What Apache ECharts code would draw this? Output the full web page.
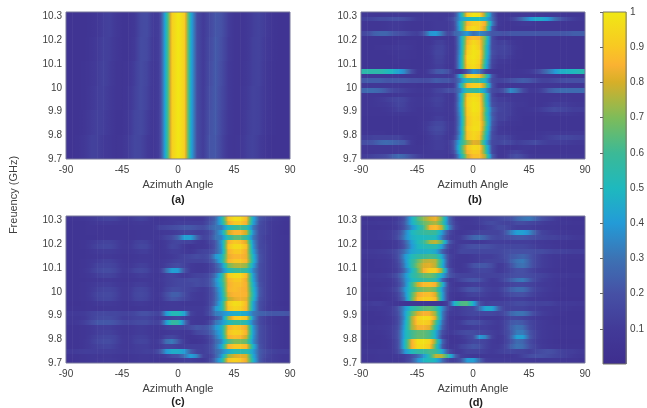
<!DOCTYPE html>
<html><head><meta charset="utf-8">
<style>html,body{margin:0;padding:0;background:#fff}#c{width:647px;height:408px}</style>
<script src="https://cdn.jsdelivr.net/npm/echarts@6/dist/echarts.min.js"></script>
</head><body><div id="c"></div>
<script>
const angles=[-90,-85,-80,-75,-70,-65,-60,-55,-50,-45,-40,-35,-30,-25,-20,-15,-10,-5,0,5,10,15,20,25,30,35,40,45,50,55,60,65,70,75,80,85,90];
const xTicks=[-90,-45,0,45,90];
const yTicks=[9.7,9.8,9.9,10,10.1,10.2,10.3];
const cbTicks=[0.1,0.2,0.3,0.4,0.5,0.6,0.7,0.8,0.9,1];
const colorStops=[[0,62,46,142],[0.1,66,58,152],[0.2,70,80,165],[0.3,60,115,180],[0.4,35,155,215],[0.5,30,185,190],[0.6,60,185,150],[0.7,125,188,90],[0.8,215,175,40],[0.85,250,178,50],[0.9,248,200,35],[1,240,232,20]];
// values in percent; rows run top (high frequency) to bottom
const panelA=[
[5,5,5,5,6,8,12,13,9,6,6,9,17,18,10,12,48,92,100,92,46,18,10,16,22,20,12,7,6,8,12,14,11,7,5,5,5],
[5,5,5,5,7,10,13,12,8,6,6,10,18,17,9,12,48,92,100,92,46,18,10,17,23,19,11,7,6,8,13,14,10,7,5,5,5],
[5,5,5,6,8,11,14,11,7,6,7,12,18,15,8,12,48,92,100,92,46,18,10,18,23,18,10,7,6,9,13,14,9,6,5,5,5],
[5,5,5,6,9,12,13,10,7,6,8,13,18,14,8,12,48,92,100,92,46,18,10,19,23,17,10,7,7,10,14,13,9,6,5,5,5],
[5,5,5,7,11,13,12,9,6,6,9,15,17,12,7,12,48,92,100,92,46,18,11,20,23,16,9,7,7,11,14,13,8,6,5,5,5],
[5,5,6,9,13,13,10,8,6,7,11,16,15,10,7,12,48,92,100,92,46,18,11,21,22,15,8,7,8,12,14,11,7,5,5,5,5]];
const panelB=[
[8,8,7,7,8,8,9,8,8,8,8,9,10,9,9,16,46,90,100,97,66,28,8,7,8,8,9,10,10,9,8,8,8,7,7,7,7],
[12,14,16,18,18,20,20,18,14,10,9,10,10,9,12,22,42,48,50,50,46,30,10,8,12,20,30,38,45,45,40,30,22,16,12,9,8],
[7,7,7,7,8,10,10,8,7,7,7,8,10,10,10,18,52,85,92,92,82,36,10,7,7,8,9,9,8,7,7,7,7,7,7,7,7],
[7,7,7,7,8,10,10,8,7,7,7,8,10,10,10,17,50,90,97,92,76,24,8,7,7,7,7,7,7,7,7,7,7,7,7,7,7],
[15,18,24,26,26,22,20,18,14,12,20,38,40,30,14,25,32,40,28,35,30,22,22,20,22,22,22,22,22,22,22,22,22,22,24,24,24],
[6,6,6,6,6,6,6,6,6,6,6,7,8,8,7,10,42,82,88,85,66,18,7,6,6,6,6,6,6,6,6,6,6,6,6,6,6],
[6,6,6,6,6,6,8,8,7,6,6,7,12,13,8,10,42,85,96,90,62,18,12,14,10,7,6,6,6,6,6,6,6,6,6,6,6],
[6,6,6,7,8,8,10,10,8,6,6,9,14,15,9,9,42,88,98,92,58,18,14,16,12,8,6,6,6,6,6,6,6,6,6,6,6],
[6,6,6,6,6,7,8,8,7,6,6,9,15,15,9,10,44,92,99,96,58,20,14,15,12,7,6,6,6,6,6,6,6,6,6,6,6],
[6,6,6,6,6,6,8,8,7,6,6,8,14,14,8,10,46,95,99,95,56,18,12,14,10,7,6,6,6,6,6,6,6,6,6,6,6],
[6,6,6,6,6,6,7,7,6,6,6,8,13,13,8,10,46,94,98,93,52,16,10,10,8,6,6,6,6,6,6,6,6,6,6,6,6],
[6,6,6,6,6,6,6,7,6,6,6,8,12,12,7,10,46,92,97,90,48,15,8,8,7,6,6,6,6,6,6,6,6,6,6,6,6],
[55,55,55,55,52,48,42,35,20,8,6,14,22,24,20,8,8,22,38,32,14,8,6,8,8,7,8,10,14,22,30,38,46,48,50,52,55],
[8,8,8,8,8,8,8,7,7,6,7,8,10,10,9,14,50,88,94,88,64,22,8,7,7,7,7,7,7,7,7,7,7,7,7,7,7],
[22,24,24,24,22,22,22,22,20,20,18,20,24,22,22,18,34,55,62,58,46,18,14,16,20,22,24,22,18,14,14,16,18,20,20,20,20],
[8,8,8,8,8,8,8,7,7,6,6,7,8,8,8,12,48,86,92,92,70,22,7,7,7,7,7,7,7,7,7,7,7,7,7,7,7],
[26,28,28,26,22,16,14,12,10,8,8,10,14,16,20,20,34,58,60,55,38,18,15,22,36,30,18,10,10,14,22,26,28,28,28,28,28],
[7,7,7,7,7,7,8,8,7,7,7,9,12,12,8,11,46,88,96,92,58,16,7,8,8,8,7,7,7,7,7,7,7,7,7,7,7],
[7,7,8,10,12,14,16,14,10,8,8,11,14,13,8,11,44,92,98,95,56,18,12,12,10,8,8,7,7,7,7,8,8,8,7,7,7],
[7,7,8,9,10,12,15,13,9,8,8,10,13,12,8,12,46,92,99,96,58,20,14,14,12,9,9,7,7,7,9,12,12,11,9,8,8],
[7,7,7,7,8,10,13,12,9,7,7,9,11,11,8,12,44,90,99,96,62,26,16,14,12,8,7,8,9,12,15,18,16,14,12,12,11],
[7,7,7,7,7,8,8,8,7,7,7,8,10,10,8,11,42,90,97,95,60,24,14,14,12,8,7,7,7,7,8,9,9,9,8,7,7],
[6,6,6,6,6,6,6,6,6,6,7,8,12,12,8,10,40,88,96,94,62,26,14,14,10,8,6,6,6,6,6,6,6,6,6,6,6],
[6,6,6,6,6,6,6,6,6,6,8,12,16,16,10,11,40,88,96,96,66,24,12,10,8,7,6,6,6,6,6,6,6,6,6,6,6],
[6,6,6,6,6,6,6,6,6,6,8,14,18,17,10,11,42,90,97,96,62,22,10,8,7,6,6,6,6,6,6,6,6,6,6,6,6],
[7,7,7,7,6,6,6,6,6,6,7,12,16,15,9,11,40,88,95,92,58,19,10,10,8,7,7,7,7,8,9,9,9,9,9,9,9],
[12,12,14,14,14,14,14,10,8,6,6,10,13,12,8,14,44,88,95,90,54,19,14,15,12,8,7,7,8,10,12,14,16,16,15,14,13],
[18,20,22,26,28,26,24,22,10,6,7,10,12,12,10,24,52,72,82,80,44,17,15,18,16,12,14,16,18,14,12,12,12,11,10,9,9],
[8,8,8,8,8,8,8,8,8,7,8,10,12,12,9,24,58,88,96,94,60,18,8,7,7,7,8,8,7,7,7,7,7,7,7,7,7],
[7,7,7,8,8,8,9,9,8,7,8,9,10,10,9,20,54,85,92,90,62,18,8,8,12,14,10,7,7,7,7,7,7,7,7,7,7],
[10,12,14,16,18,24,28,25,20,14,10,10,10,10,8,14,46,78,88,88,74,26,8,8,16,20,15,10,8,8,8,8,8,8,8,8,8]];
const panelC=[
[7,7,7,8,10,12,14,15,14,10,9,12,14,12,8,7,8,10,10,10,10,9,10,18,26,50,88,97,96,86,46,22,16,12,10,8,7],
[6,6,6,6,8,9,10,10,9,8,8,9,10,9,8,8,9,10,12,12,12,12,12,20,28,48,82,90,90,84,44,20,14,10,9,7,6],
[6,6,6,6,7,7,7,7,7,7,7,8,8,8,8,14,16,18,20,22,22,20,18,24,30,32,50,58,62,56,32,18,14,10,8,7,6],
[6,6,6,6,7,7,7,7,7,7,7,7,8,8,8,8,9,10,12,14,14,12,12,16,28,42,78,86,86,78,38,18,14,10,8,6,6],
[6,6,6,6,6,6,7,7,7,7,6,7,8,8,8,10,14,18,26,42,42,26,14,18,30,34,55,65,65,56,32,18,12,10,8,7,6],
[6,6,6,7,10,12,14,14,12,9,8,12,14,13,8,7,10,14,16,14,14,10,8,14,22,42,84,90,88,80,38,18,13,10,8,6,6],
[6,6,6,7,11,14,16,16,13,9,9,13,16,15,9,7,10,16,14,9,6,8,8,12,22,40,88,96,95,87,40,18,14,10,8,6,6],
[6,6,6,6,8,10,11,11,10,8,8,10,12,12,8,7,9,12,12,10,8,12,14,16,24,38,84,90,90,83,44,20,14,10,8,6,6],
[6,6,6,6,7,8,9,9,8,7,7,8,9,9,8,7,8,10,12,14,16,18,16,20,38,48,82,86,86,83,50,22,14,10,8,6,6],
[6,6,6,7,9,11,13,13,11,8,7,9,10,10,8,8,10,12,14,14,14,14,14,18,30,50,84,90,90,85,52,22,14,10,8,6,6],
[6,6,6,7,10,14,15,15,13,9,8,11,13,12,8,8,12,16,18,14,10,8,8,12,22,36,68,75,76,72,44,20,14,10,8,6,6],
[6,6,6,8,12,16,18,18,15,10,10,15,17,15,9,10,28,42,40,20,10,8,8,12,20,32,50,58,60,56,36,20,14,10,8,6,6],
[6,6,6,7,9,12,14,14,12,8,8,10,12,11,8,8,12,14,12,10,12,14,14,18,30,52,90,96,95,86,42,20,14,10,8,6,6],
[6,6,6,6,7,8,9,9,8,7,7,8,9,9,8,9,12,14,16,16,18,18,16,20,36,55,85,90,90,82,44,20,14,10,8,6,6],
[6,6,6,7,9,11,12,12,10,8,8,11,12,11,8,8,12,14,16,16,16,18,16,20,34,52,84,88,88,84,48,22,14,10,8,6,6],
[6,6,6,7,10,13,15,15,13,9,9,14,16,14,9,8,14,18,18,16,14,12,10,14,28,48,85,88,86,84,52,24,14,10,8,6,6],
[6,6,6,7,11,15,17,17,14,9,9,15,17,15,9,9,18,24,24,18,12,10,9,14,26,46,82,86,86,85,54,24,14,10,8,6,6],
[6,6,6,7,10,14,16,16,13,9,9,14,16,14,9,8,16,22,20,16,12,10,9,14,26,44,76,82,84,82,52,22,14,10,8,6,6],
[5,5,5,6,7,9,10,10,9,7,7,9,10,9,7,7,9,10,10,8,8,8,8,14,28,50,90,97,95,86,44,20,13,9,7,5,5],
[6,6,6,6,7,7,8,8,8,7,7,7,8,8,7,8,9,10,10,10,10,10,10,16,38,50,88,94,92,85,44,20,12,9,8,6,6],
[10,10,10,11,14,16,17,16,16,14,14,16,20,20,16,14,38,52,52,42,14,10,10,18,32,36,42,46,46,44,32,26,24,22,22,22,20],
[8,8,8,10,14,17,18,18,16,12,12,14,15,15,12,10,12,14,16,12,10,8,8,10,20,30,72,90,92,88,38,18,12,9,7,6,6],
[8,8,10,13,18,22,22,22,20,16,15,17,18,18,14,14,38,58,56,30,10,8,8,14,30,38,50,58,58,52,32,18,12,9,7,6,6],
[6,6,6,7,9,12,12,12,10,8,8,10,11,10,8,8,12,14,14,14,18,22,20,24,38,48,84,90,88,82,40,20,14,10,8,6,6],
[6,6,6,7,9,12,13,13,11,8,8,10,11,10,8,7,8,10,10,8,10,16,18,22,34,46,88,93,92,84,42,20,14,10,8,6,6],
[6,6,6,7,11,14,16,16,14,9,9,12,13,12,8,8,14,16,12,8,6,8,10,16,30,44,84,88,86,78,40,20,14,10,8,6,6],
[6,6,6,8,12,16,18,18,14,10,9,13,15,14,9,12,28,32,22,10,6,6,8,14,26,36,62,70,70,66,38,20,14,10,8,6,6],
[6,6,6,8,11,13,15,15,12,9,9,11,12,12,9,10,14,14,12,12,12,12,12,16,28,44,84,90,90,86,50,22,14,10,8,6,6],
[10,10,11,12,12,12,12,12,11,10,10,11,12,13,12,20,38,46,46,40,24,14,12,16,26,34,44,52,54,54,42,24,18,14,12,12,11],
[6,6,6,7,8,8,9,9,8,7,7,8,9,9,8,9,12,18,20,30,42,34,14,12,24,40,72,80,82,80,46,24,16,12,10,8,8],
[5,5,6,7,8,9,10,10,9,7,7,8,9,9,8,7,8,9,10,12,12,10,8,14,30,50,88,93,90,82,50,24,14,12,10,8,8]];
const panelD=[
[6,6,6,7,7,8,12,22,44,62,72,80,84,66,30,12,8,8,10,12,14,14,16,18,20,26,30,32,26,20,16,12,8,7,6,6,6],
[8,8,8,9,9,10,14,24,44,58,66,72,76,62,30,14,9,9,10,12,16,18,16,14,14,18,18,16,14,12,10,9,8,8,7,7,7],
[6,6,6,6,7,8,12,22,36,48,60,84,88,76,38,16,9,8,8,10,12,14,18,18,14,12,12,12,10,9,8,8,7,6,6,6,6],
[8,8,8,9,10,12,18,32,48,54,58,60,58,40,18,10,8,10,12,14,14,14,14,20,32,42,42,36,24,14,12,10,9,8,7,7,7],
[8,8,8,9,10,12,20,34,46,50,50,52,50,32,14,10,12,20,26,28,24,18,16,18,20,22,22,20,18,16,14,14,12,12,10,9,9],
[6,6,6,6,7,8,12,24,40,50,58,74,78,64,26,12,9,9,8,8,10,12,12,12,12,12,12,12,10,9,8,7,7,6,6,6,6],
[6,6,6,6,7,8,12,22,38,48,52,54,54,40,16,10,14,18,20,20,20,18,16,16,16,16,16,14,12,10,9,8,7,6,6,6,6],
[10,10,10,11,12,14,20,30,42,46,46,48,44,26,12,10,16,16,16,16,16,16,16,18,20,20,20,20,18,18,16,14,14,13,12,12,12],
[8,8,8,9,10,12,20,38,50,56,60,62,60,42,16,10,8,8,10,12,12,12,14,18,22,24,26,22,16,12,10,8,8,7,7,7,7],
[6,6,6,7,8,10,18,36,54,66,76,78,76,50,16,8,8,8,10,12,14,14,14,16,24,30,32,24,16,12,10,8,7,6,6,6,6],
[6,6,6,7,8,10,16,34,54,70,80,82,76,48,16,8,8,12,20,22,22,18,10,12,20,28,30,24,16,12,10,8,7,6,6,6,6],
[6,6,6,6,7,9,14,28,46,64,84,92,92,70,24,10,8,10,14,16,16,14,10,12,16,20,20,16,12,10,8,7,6,6,6,6,6],
[9,9,9,10,11,14,22,36,52,60,66,68,62,44,24,16,14,14,14,14,14,14,14,16,18,20,20,18,16,14,12,10,9,9,8,8,8],
[7,7,7,8,8,10,18,34,48,54,58,60,54,28,10,10,16,20,22,20,14,10,12,18,24,30,32,24,16,12,10,8,7,6,6,6,6],
[6,6,6,6,7,9,16,32,56,78,87,88,84,52,14,7,8,10,12,12,12,10,10,12,14,16,16,14,12,10,9,8,6,6,6,6,6],
[7,7,7,8,9,12,20,38,54,66,70,72,66,40,14,9,14,20,22,20,14,12,12,18,24,28,28,22,14,12,10,8,7,6,6,6,6],
[6,6,6,6,7,9,16,34,60,82,87,88,80,44,12,7,8,12,14,14,12,10,10,14,18,20,20,16,12,10,8,7,6,6,6,6,6],
[5,5,5,5,6,8,14,30,62,86,92,92,86,44,12,6,6,8,8,10,10,8,8,10,12,12,12,10,9,8,7,6,5,5,5,5,5],
[10,10,12,12,10,8,7,6,6,6,6,6,6,6,14,48,62,64,46,20,12,14,14,14,16,18,18,16,14,14,14,12,10,10,10,9,9],
[8,8,8,9,10,12,22,38,52,60,64,66,60,38,16,10,12,14,16,28,44,44,26,14,14,14,14,12,12,10,9,8,8,8,7,7,7],
[6,6,6,7,9,12,20,40,64,80,85,84,72,34,12,10,12,14,16,16,16,16,14,18,26,30,30,24,16,12,10,8,7,6,6,6,6],
[6,6,6,6,8,10,18,38,72,92,97,96,78,34,10,7,7,10,12,10,8,8,8,12,16,16,14,12,10,8,7,6,6,6,6,6,6],
[6,6,6,7,8,10,18,42,72,90,93,90,62,30,10,9,12,18,20,18,14,12,10,14,22,24,22,16,12,10,8,7,6,6,6,6,6],
[8,8,8,9,10,12,20,44,72,84,85,82,54,26,10,9,9,10,12,12,12,10,9,14,24,30,28,18,12,10,8,8,7,7,7,7,7],
[6,6,6,7,9,12,22,46,60,65,66,62,44,20,10,12,16,18,18,16,14,12,10,14,22,32,32,22,14,10,8,7,6,6,6,6,6],
[6,6,6,6,8,12,22,46,60,66,66,62,44,16,7,7,10,14,18,40,34,14,8,12,24,42,42,24,14,10,8,7,6,6,6,6,6],
[5,5,5,6,7,10,20,50,82,97,98,94,68,28,8,6,8,12,16,16,14,10,8,12,20,28,26,18,12,9,7,6,5,5,5,5,5],
[6,6,6,6,7,10,20,50,82,95,96,90,60,24,8,8,14,18,22,20,14,10,10,14,24,30,28,20,14,10,8,7,6,6,6,6,6],
[8,8,8,9,9,10,18,38,50,56,58,62,60,44,20,10,10,14,14,14,12,10,12,14,16,14,14,12,16,18,20,18,14,12,12,10,10],
[7,7,7,8,8,8,10,12,18,26,38,56,78,76,56,28,12,10,8,8,8,8,8,8,8,10,14,18,20,20,18,16,14,12,10,8,8],
[7,7,7,8,8,8,8,12,20,36,48,52,48,30,14,12,20,40,42,26,12,10,10,10,10,10,10,9,9,8,8,8,8,7,7,6,6]];

const FONT='"Liberation Sans",Arial,sans-serif', INK='#404040';
const FMIN=9.7, FMAX=10.32;
const panels=[
 {rows:panelA,left:66,top:12,label:'(a)',labelX:178,labelY:200},
 {rows:panelB,left:361,top:12,label:'(b)',labelX:475,labelY:200},
 {rows:panelC,left:66,top:216,label:'(c)',labelX:178,labelY:402},
 {rows:panelD,left:361,top:216,label:'(d)',labelX:476,labelY:403}];

function colorOf(v){
  v=Math.min(1,Math.max(0,v));
  for(let i=1;i<colorStops.length;i++){
    const a=colorStops[i-1],b=colorStops[i];
    if(v<=b[0]){const t=(v-a[0])/(b[0]-a[0]);
      return 'rgb('+[1,2,3].map(k=>Math.round(a[k]+(b[k]-a[k])*t)).join(',')+')';}
  }
  return 'rgb(240,232,20)';
}
function shaded(v0,v1){
  const s=[];for(let i=0;i<=4;i++)s.push({offset:i/4,color:colorOf(v0+(v1-v0)*i/4)});return s;
}
function renderCell(params,api){
  const p0=api.coord([api.value(0),api.value(3)]),p1=api.coord([api.value(1),api.value(2)]);
  const y0=Math.round(p0[1]),y1=Math.round(p1[1]);
  const horiz=api.value(6)===0;
  return {type:'rect',
    shape:{x:p0[0],y:y0,width:p1[0]-p0[0]+0.6,height:Math.max(1,y1-y0)},
    style:{fill:{type:'linear',x:0,y:horiz?0:1,x2:horiz?1:0,y2:0,global:false,colorStops:shaded(api.value(4),api.value(5))}}};
}
const grid=[],xAxis=[],yAxis=[],series=[],graphic=[];
const axisText={color:INK,fontFamily:FONT,fontSize:10};
panels.forEach((p,idx)=>{
  grid.push({left:p.left,top:p.top,width:224,height:147,show:true,backgroundColor:'transparent',borderColor:'#77779a',borderWidth:1,z:5});
  xAxis.push({gridIndex:idx,type:'value',min:-90,max:90,interval:45,
    axisLine:{show:false},axisTick:{show:false},splitLine:{show:false},
    axisLabel:Object.assign({margin:6,customValues:xTicks},axisText),
    name:'Azimuth Angle',nameLocation:'middle',nameGap:20,nameTextStyle:{color:INK,fontFamily:FONT,fontSize:11}});
  yAxis.push({gridIndex:idx,type:'value',min:FMIN,max:FMAX,
    axisLine:{show:false},axisTick:{show:false},splitLine:{show:false},
    axisLabel:Object.assign({margin:4,customValues:yTicks},axisText)});
  const n=p.rows.length,df=(FMAX-FMIN)/n,data=[];
  p.rows.forEach((r,k)=>{
    const hi=FMAX-df*k,lo=hi-df;
    for(let c=0;c<angles.length-1;c++)data.push([angles[c],angles[c+1],lo,hi,r[c]/100,r[c+1]/100,0]);
  });
  series.push({type:'custom',xAxisIndex:idx,yAxisIndex:idx,data,renderItem:renderCell,silent:true,animation:false,progressive:0,
    encode:{x:[0,1],y:[2,3]},clip:true});
  graphic.push({type:'text',silent:true,x:p.labelX,y:p.labelY,
    style:{text:p.label,font:'bold 11px '+FONT,fill:'#222',textAlign:'center',textVerticalAlign:'middle'}});
});
// colour bar
grid.push({left:603,top:12,width:24.5,height:352,show:true,backgroundColor:'transparent',borderColor:'#77776a',borderWidth:1,z:5});
xAxis.push({gridIndex:4,type:'value',min:0,max:1,show:false});
yAxis.push({gridIndex:4,type:'value',min:0,max:1,position:'right',
  axisLine:{show:false},splitLine:{show:false},
  axisTick:{show:true,inside:true,length:3,customValues:cbTicks,lineStyle:{color:'#666',width:1}},
  axisLabel:Object.assign({margin:4,customValues:cbTicks},axisText),z:6});
const barData=[];
for(let i=1;i<colorStops.length;i++)barData.push([0,1,colorStops[i-1][0],colorStops[i][0],colorStops[i-1][0],colorStops[i][0],1]);
series.push({type:'custom',xAxisIndex:4,yAxisIndex:4,data:barData,renderItem:renderCell,silent:true,animation:false,encode:{x:[0,1],y:[2,3]}});
graphic.push({type:'text',silent:true,x:14,y:195,rotation:Math.PI/2,
  style:{text:'Freuency (GHz)',font:'11px '+FONT,fill:INK,textAlign:'center',textVerticalAlign:'middle'}});

const chart=echarts.init(document.getElementById('c'),null,{renderer:'canvas'});
chart.setOption({animation:false,backgroundColor:'#fff',grid,xAxis,yAxis,series,graphic});
</script></body></html>
